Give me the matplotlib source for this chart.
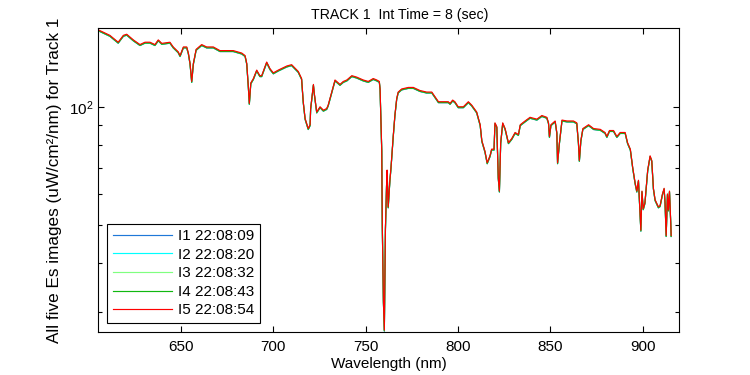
import matplotlib
matplotlib.use("Agg")
import matplotlib.pyplot as plt
from matplotlib.ticker import LogLocator, NullFormatter, FixedLocator

plt.rcParams['font.family'] = ['Liberation Sans', 'DejaVu Sans']
plt.rcParams['mathtext.fontset'] = 'custom'
plt.rcParams['mathtext.rm'] = 'Liberation Sans'
plt.rcParams['font.size'] = 11

# wavelength (nm) and Es of image I5
wavelength = [605.2, 611.5, 616.0, 618.8, 620.6, 624.2, 627.8, 630.5, 633.2, 635.9,
              637.7, 639.6, 644.0, 645.8, 648.5, 649.5, 651.3, 653.1, 654.0, 654.9,
              655.8, 656.7, 658.2, 661.2, 663.9, 667.5, 671.1, 674.8, 678.3, 682.9,
              684.7, 685.6, 686.5, 687.0, 687.8, 689.2, 691.0, 692.7, 693.7, 696.4,
              698.2, 700.0, 702.7, 707.3, 709.9, 713.5, 715.3, 716.2, 717.2, 718.9,
              719.9, 720.2, 721.7, 722.2, 723.5, 725.3, 727.1, 728.9, 729.7, 731.6,
              733.4, 736.1, 737.9, 739.8, 742.5, 745.1, 748.7, 751.4, 754.1, 756.0,
              757.4, 757.8, 758.7, 759.0, 759.6, 760.1, 760.7, 761.3, 761.6, 762.2,
              763.1, 763.7, 764.9, 765.8, 766.8, 767.6, 769.5, 773.1, 775.8, 779.4,
              783.0, 785.8, 787.6, 789.4, 792.1, 794.7, 795.7, 797.1, 798.3, 800.1,
              802.9, 805.6, 807.4, 810.1, 812.0, 812.9, 814.6, 815.8, 817.3, 818.2,
              819.5, 820.0, 821.0, 821.8, 822.4, 823.1, 824.2, 825.5, 827.3, 829.1,
              830.9, 832.7, 833.7, 836.3, 839.0, 842.7, 845.4, 848.1, 849.0, 849.5,
              850.3, 852.6, 853.5, 853.9, 854.9, 856.3, 859.0, 862.5, 864.3, 865.2,
              865.7, 866.5, 867.6, 870.7, 873.4, 877.0, 879.6, 880.6, 882.0, 884.2,
              886.0, 887.8, 890.5, 891.8, 893.3, 894.6, 895.9, 896.8, 897.7, 898.6,
              899.0, 899.6, 900.3, 901.2, 902.7, 904.0, 904.9, 905.8, 906.7, 908.5,
              909.4, 910.7, 911.6, 912.1, 912.7, 913.4, 913.9, 914.5, 915.2, 915.4]
es = [157, 152, 146, 152, 153, 148, 144, 146, 146, 144,
      148, 145, 146, 142, 138, 135, 142, 142, 137, 129,
      116, 129, 140, 144, 142, 142, 139, 139, 139, 137,
      135, 129, 112, 102, 115, 118, 124, 120, 120, 130,
      125, 122, 124, 127, 128, 123, 118, 103, 93.4, 88,
      90, 99, 114, 108, 97, 100, 98, 99, 101, 109,
      117, 114, 116, 117, 120, 119, 117, 116, 118, 117,
      116, 111, 77.6, 50, 32, 27, 49, 63, 69, 55.6,
      65, 70, 84, 95, 105, 109, 111, 112, 112, 110,
      109, 109, 106, 103, 103, 103, 102, 104, 103, 100,
      100, 103, 101, 97, 90, 82, 77, 72, 75, 78,
      78, 91, 89, 66, 61, 81, 91, 88, 81, 83,
      86, 85, 90, 92, 94, 93, 95, 94, 91, 84,
      90, 92, 86, 72, 81, 92.5, 92, 92, 91, 81,
      73, 82, 88, 90, 88, 87.6, 86, 84, 87, 87,
      84, 86, 86, 81, 78, 70, 64, 61, 65, 53.5,
      48.5, 61, 55, 57, 69, 75, 73, 62, 58, 55.6,
      56, 60, 62, 57, 47, 60, 54.6, 61, 50.5, 47]

# ratio of each image to I5 (the other images sit a hair below the red one)
ratio = [0.994, 0.996, 0.997, 0.995, 1.0]
labels = ['I1 22:08:09', 'I2 22:08:20', 'I3 22:08:32', 'I4 22:08:43', 'I5 22:08:54']
colors = ['#1f78d8', '#00ffff', '#80ff80', '#10b810', '#ff0000']

fig = plt.figure(figsize=(7.5, 3.75), dpi=100)
ax = fig.add_axes([0.131, 0.1147, 0.7747, 0.8098])

for r, lab, c in zip(ratio, labels, colors):
    ax.plot(wavelength, [v * r for v in es], color=c, lw=0.85, label=lab)

ax.set_yscale('log')
ax.set_xlim(605.2, 919.8)
ax.set_ylim(26.7, 158.4)
ax.set_xticks([650, 700, 750, 800, 850, 900])
ax.yaxis.set_major_locator(FixedLocator([100]))
ax.yaxis.set_minor_locator(LogLocator(base=10, subs=range(2, 10)))
ax.yaxis.set_minor_formatter(NullFormatter())
ax.tick_params(which='both', direction='in', top=True, right=True, width=0.8)
ax.tick_params(which='major', length=4)
ax.tick_params(which='minor', length=3)
ax.tick_params(axis='x', pad=6)
for s in ax.spines.values():
    s.set_linewidth(0.8)

ax.set_title('TRACK 1  Int Time = 8 (sec)', x=0.519, pad=7, fontsize=10.2)
ax.set_xlabel('Wavelength (nm)', labelpad=2)
ax.set_ylabel('All five Es images (uW/cm²/nm) for Track 1', labelpad=5, fontsize=12.3)

leg = ax.legend(loc='lower left', handlelength=3.9, handletextpad=0.4,
                labelspacing=0.3, borderpad=0.35, borderaxespad=0.6,
                fancybox=False, framealpha=1, edgecolor='black')
leg.get_frame().set_linewidth(0.8)

fig.savefig('out.png', dpi=100)
